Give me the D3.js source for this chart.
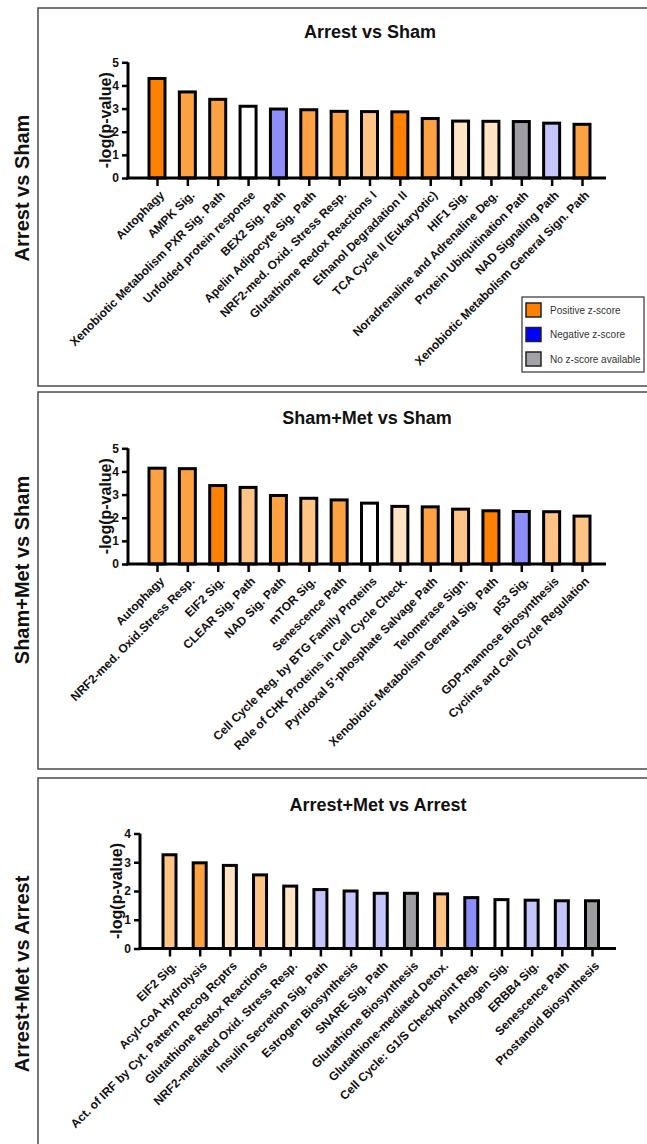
<!DOCTYPE html>
<html>
<head>
<meta charset="utf-8">
<script src="https://cdn.jsdelivr.net/npm/d3@7"></script>
<style>
  html, body { margin: 0; padding: 0; background: #fff; }
  svg { display: block; }
</style>
</head>
<body>
<svg id="chart" width="647" height="1144"></svg>
<script>
// ---- data -------------------------------------------------------------
// z-score classes: O3 strong positive, O2, O1, O0 weak positive,
// B2 negative, B1 weak negative, G no z-score, W z-score 0
const arrestShamCategories = [
  "Autophagy", "AMPK Sig.", "Xenobiotic Metabolism PXR Sig. Path",
  "Unfolded protein response", "BEX2 Sig. Path", "Apelin Adipocyte Sig. Path",
  "NRF2-med. Oxid. Stress Resp.", "Glutathione Redox Reactions I",
  "Ethanol Degradation II", "TCA Cycle II (Eukaryotic)", "HIF1 Sig.",
  "Noradrenaline and Adrenaline Deg.", "Protein Ubiquitination Path",
  "NAD Signaling Path", "Xenobiotic Metabolism General Sign. Path"
];
const arrestShamValues = [4.30, 3.72, 3.40, 3.10, 2.98, 2.95, 2.88, 2.87, 2.86, 2.57, 2.46, 2.45, 2.44, 2.37, 2.32];
const arrestShamZ = ["O3", "O2", "O2", "W", "B2", "O2", "O2", "O1", "O3", "O2", "O0", "O0", "G", "B1", "O2"];

const shamMetCategories = [
  "Autophagy", "NRF2-med. Oxid.Stress Resp.", "EIF2 Sig.", "CLEAR Sig. Path",
  "NAD Sig. Path", "mTOR Sig.", "Senescence Path",
  "Cell Cycle Reg. by BTG Family Proteins", "Role of CHK Proteins in Cell Cycle Check.",
  "Pyridoxal 5'-phosphate Salvage Path", "Telomerase Sign.",
  "Xenobiotic Metabolism General Sig. Path", "p53 Sig.",
  "GDP-mannose Biosynthesis", "Cyclins and Cell Cycle Regulation"
];
const shamMetValues = [4.14, 4.12, 3.39, 3.31, 2.96, 2.84, 2.77, 2.63, 2.49, 2.47, 2.37, 2.30, 2.27, 2.26, 2.07];
const shamMetZ = ["O2", "O2", "O3", "O1", "O2", "O1", "O2", "W", "O0", "O2", "O1", "O3", "B2", "O1", "O1"];

const arrestMetCategories = [
  "EIF2 Sig.", "Acyl-CoA Hydrolysis", "Act. of IRF by Cyt. Pattern Recog Rcptrs",
  "Glutathione Redox Reactions", "NRF2-mediated Oxid. Stress Resp.",
  "Insulin Secretion Sig. Path", "Estrogen Biosynthesis", "SNARE Sig. Path",
  "Glutathione Biosynthesis", "Glutathione-mediated Detox.",
  "Cell Cycle: G1/S Checkpoint Reg.", "Androgen Sig.", "ERBB4 Sig.",
  "Senescence Path", "Prostanoid Biosynthesis"
];
const arrestMetValues = [3.26, 2.98, 2.89, 2.56, 2.17, 2.05, 2.00, 1.92, 1.92, 1.90, 1.77, 1.70, 1.68, 1.66, 1.66];
const arrestMetZ = ["O1", "O2", "O0", "O1", "O0", "B1", "B1", "B1", "G", "O1", "B2", "W", "B1", "B1", "G"];

const yTicksFive = [0, 1, 2, 3, 4, 5];
const yTicksFour = [0, 1, 2, 3, 4];

const legendLabels = ["Positive z-score", "Negative z-score", "No z-score available"];
const legendClasses = ["LP", "LN", "LG"];

// ---- styling ----------------------------------------------------------
const FONT = "'Liberation Sans', Arial, Helvetica, sans-serif";
const fillScale = d3.scaleOrdinal()
  .domain(["O3", "O2", "O1", "O0", "B2", "B1", "G", "W", "LP", "LN", "LG"])
  .range(["#ff8104", "#fda242", "#fec486", "#ffe3c5", "#8e8ef9", "#c5c5fc",
          "#9e9ea2", "#ffffff", "#ff8000", "#0000ff", "#a2a2a8"]);

const panels = [
  {
    title: "Arrest vs Sham", row: "Arrest vs Sham",
    cats: arrestShamCategories, vals: arrestShamValues, z: arrestShamZ,
    ticks: yTicksFive, yMax: 5,
    frameTop: 8, frameBottom: 386, rowY: 188,
    titleX: 370, titleY: 38,
    axisX: 128, axisEnd: 606, y0: 178, yTop: 62.3,
    firstX: 157, lastX: 582, barW: 16, ylabX: 105
  },
  {
    title: "Sham+Met vs Sham", row: "Sham+Met vs Sham",
    cats: shamMetCategories, vals: shamMetValues, z: shamMetZ,
    ticks: yTicksFive, yMax: 5,
    frameTop: 392, frameBottom: 769, rowY: 570,
    titleX: 367, titleY: 424,
    axisX: 128, axisEnd: 606, y0: 564, yTop: 448.3,
    firstX: 157, lastX: 582, barW: 16, ylabX: 105
  },
  {
    title: "Arrest+Met vs Arrest", row: "Arrest+Met vs Arrest",
    cats: arrestMetCategories, vals: arrestMetValues, z: arrestMetZ,
    ticks: yTicksFour, yMax: 4,
    frameTop: 778, frameBottom: 1160, rowY: 974,
    titleX: 378, titleY: 811,
    axisX: 140, axisEnd: 616, y0: 948.5, yTop: 833.5,
    firstX: 169.5, lastX: 592, barW: 13, ylabX: 116
  }
];

const svg = d3.select("#chart");

panels.forEach(p => {
  const g = svg.append("g");

  // panel frame (open on the right, runs past the page edge)
  g.append("rect")
    .attr("x", 38).attr("y", p.frameTop)
    .attr("width", 620).attr("height", p.frameBottom - p.frameTop)
    .attr("fill", "none").attr("stroke", "#4a4a4a").attr("stroke-width", 1.5);

  // row label on the left
  g.append("text")
    .attr("transform", `translate(22,${p.rowY}) rotate(-90)`)
    .attr("text-anchor", "middle").attr("dy", "0.35em")
    .attr("font-family", FONT).attr("font-weight", "bold").attr("font-size", 20)
    .attr("fill", "#111").text(p.row);

  // title
  g.append("text")
    .attr("x", p.titleX).attr("y", p.titleY)
    .attr("text-anchor", "middle")
    .attr("font-family", FONT).attr("font-weight", "bold").attr("font-size", 18)
    .attr("fill", "#111").text(p.title);

  const x = d3.scalePoint().domain(p.cats).range([p.firstX, p.lastX]);
  const y = d3.scaleLinear().domain([0, p.yMax]).range([p.y0, p.yTop]);

  // bars
  g.selectAll("rect.bar")
    .data(p.cats.map((c, i) => ({ c, v: p.vals[i], z: p.z[i] })))
    .join("rect")
    .attr("class", "bar")
    .attr("x", d => x(d.c) - p.barW / 2)
    .attr("y", d => y(d.v))
    .attr("width", p.barW)
    .attr("height", d => y(0) - y(d.v))
    .attr("fill", d => fillScale(d.z))
    .attr("stroke", "#000").attr("stroke-width", 3);

  // y axis
  const yAxis = d3.axisLeft(y).tickValues(p.ticks).tickSize(6).tickPadding(3)
    .tickFormat(d3.format("d"));
  const ya = g.append("g").attr("transform", `translate(${p.axisX},0)`).call(yAxis);
  ya.select(".domain").attr("stroke", "#000").attr("stroke-width", 3)
    .attr("d", `M0,${p.yTop}V${p.y0}`);
  ya.selectAll(".tick line").attr("stroke", "#000").attr("stroke-width", 2.5);
  ya.selectAll(".tick text").attr("font-family", FONT).attr("font-weight", "bold")
    .attr("font-size", 12).attr("fill", "#111");

  // x axis
  const xAxis = d3.axisBottom(x).tickSize(8).tickFormat("");
  const xa = g.append("g").attr("transform", `translate(0,${p.y0})`).call(xAxis);
  xa.select(".domain").attr("stroke", "#000").attr("stroke-width", 3)
    .attr("d", `M${p.axisX - 1.5},0H${p.axisEnd}`);
  xa.selectAll(".tick line").attr("stroke", "#000").attr("stroke-width", 2.5);

  // rotated category labels
  g.selectAll("text.cat")
    .data(p.cats)
    .join("text")
    .attr("class", "cat")
    .attr("transform", d => `translate(${x(d) + 2},${p.y0 + 12}) rotate(-45)`)
    .attr("text-anchor", "end").attr("dy", "0.7em")
    .attr("font-family", FONT).attr("font-weight", "bold").attr("font-size", 12)
    .attr("fill", "#111").text(d => d);

  // y axis title
  g.append("text")
    .attr("transform", `translate(${p.ylabX},${(p.y0 + p.yTop) / 2}) rotate(-90)`)
    .attr("text-anchor", "middle").attr("dy", "0.35em")
    .attr("font-family", FONT).attr("font-weight", "bold").attr("font-size", 16)
    .attr("fill", "#111").text("-log(p-value)");
});

// legend (first panel)
const lg = svg.append("g");
lg.append("rect").attr("x", 522).attr("y", 297).attr("width", 122).attr("height", 75)
  .attr("fill", "#fff").attr("stroke", "#333").attr("stroke-width", 1.2);
const rowScale = d3.scalePoint().domain(legendLabels).range([310, 359]);
legendLabels.forEach((lab, i) => {
  lg.append("rect").attr("x", 526).attr("y", rowScale(lab) - 7)
    .attr("width", 15).attr("height", 14)
    .attr("fill", fillScale(legendClasses[i])).attr("stroke", "#222").attr("stroke-width", 1.5);
  lg.append("text").attr("x", 550).attr("y", rowScale(lab)).attr("dy", "0.35em")
    .attr("font-family", FONT).attr("font-size", 10).attr("fill", "#333").text(lab);
});
</script>
</body>
</html>
